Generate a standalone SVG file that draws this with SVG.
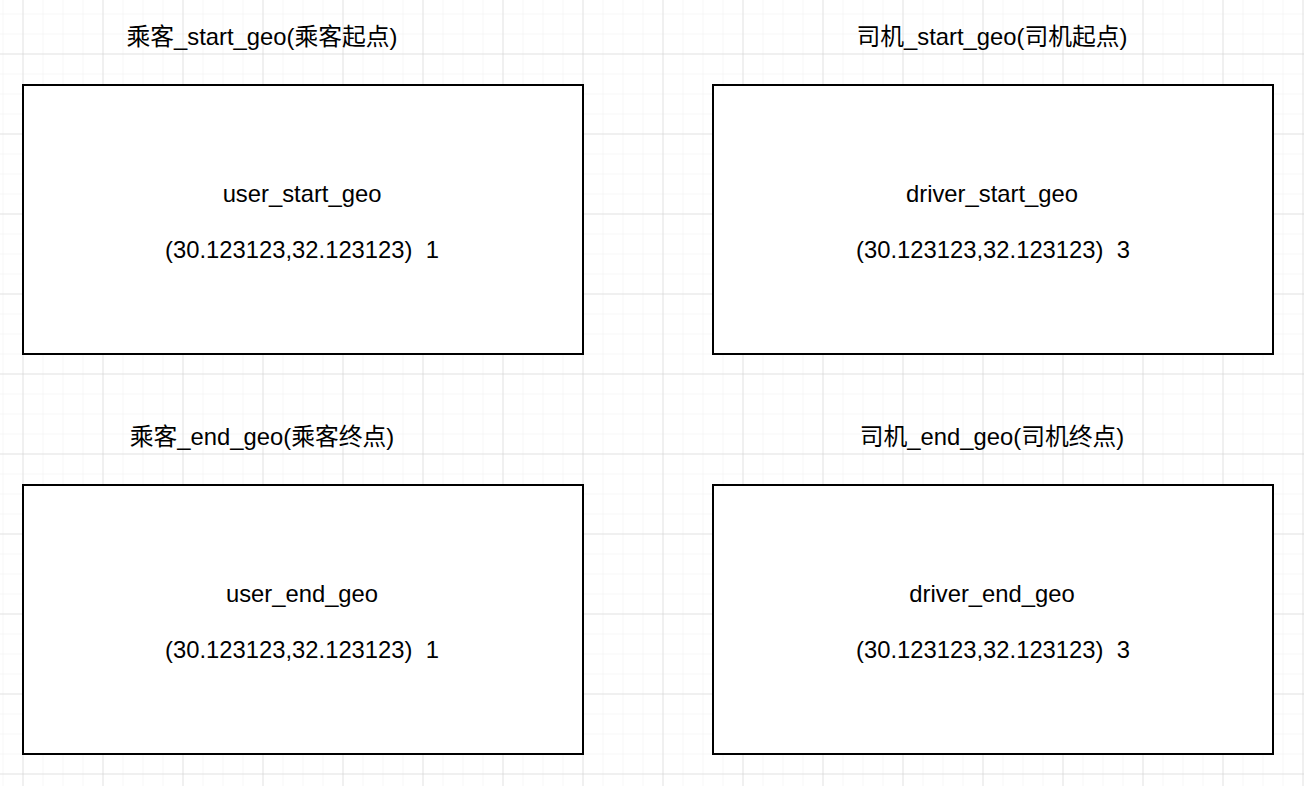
<svg xmlns="http://www.w3.org/2000/svg" width="1304" height="786" viewBox="0 0 1304 786">
<style>
text{font-family:"Liberation Sans","Noto Sans CJK SC",sans-serif;font-size:23.8px;fill:#000;text-anchor:middle;white-space:pre}
.box{fill:#fff;stroke:#000;stroke-width:2}
</style>
<defs>
<pattern id="minor" x="2.5" y="13.5" width="20" height="20" patternUnits="userSpaceOnUse">
<path d="M0 0H20M0 0V20" fill="none" stroke="#efefef" stroke-width="1"/>
</pattern>
<pattern id="major" x="22.5" y="53.5" width="80" height="80" patternUnits="userSpaceOnUse">
<path d="M0 0H80M0 0V80" fill="none" stroke="#d0d0d0" stroke-width="1"/>
</pattern>
</defs>
<rect width="1304" height="786" fill="#fff"/>
<rect width="1304" height="786" fill="url(#minor)"/>
<rect width="1304" height="786" fill="url(#major)"/>
<g id="title-user-start"><text x="262" y="45">乘客_start_geo(乘客起点)</text></g>
<g id="title-driver-start"><text x="992" y="45">司机_start_geo(司机起点)</text></g>
<g id="title-user-end"><text x="262" y="445">乘客_end_geo(乘客终点)</text></g>
<g id="title-driver-end"><text x="992" y="445">司机_end_geo(司机终点)</text></g>
<g id="user-start">
<rect class="box" x="23" y="85" width="560" height="269"/>
<text x="302" y="202">user_start_geo</text>
<text x="302" y="258">(30.123123,32.123123)  1</text>
</g>
<g id="driver-start">
<rect class="box" x="713" y="85" width="560" height="269"/>
<text x="992" y="202">driver_start_geo</text>
<text x="993" y="258">(30.123123,32.123123)  3</text>
</g>
<g id="user-end">
<rect class="box" x="23" y="485" width="560" height="269"/>
<text x="302" y="602">user_end_geo</text>
<text x="302" y="658">(30.123123,32.123123)  1</text>
</g>
<g id="driver-end">
<rect class="box" x="713" y="485" width="560" height="269"/>
<text x="992" y="602">driver_end_geo</text>
<text x="993" y="658">(30.123123,32.123123)  3</text>
</g>
<g id="connectors"/>
</svg>
